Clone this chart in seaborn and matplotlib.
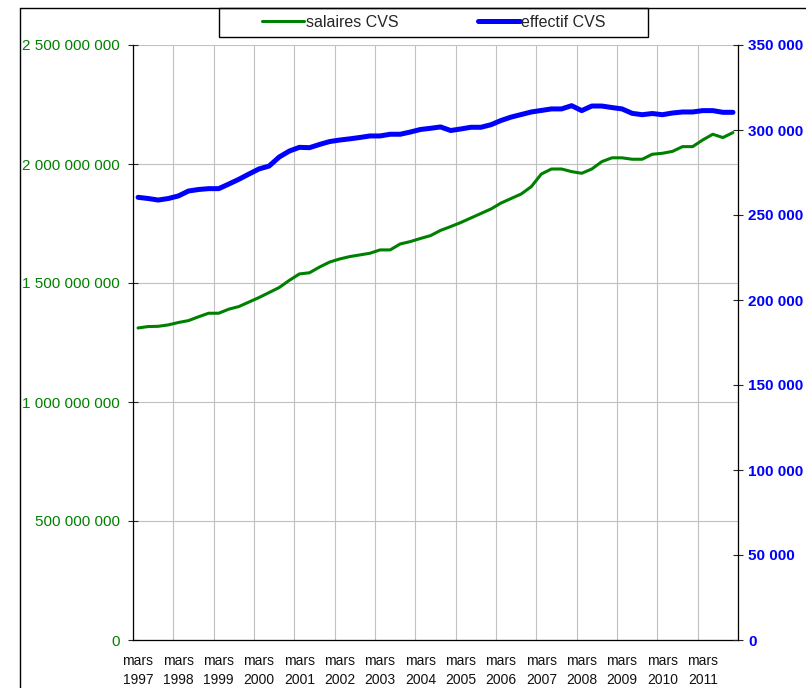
import numpy as np
import pandas as pd
import matplotlib
matplotlib.use("Agg")
import matplotlib.pyplot as plt
from matplotlib.lines import Line2D
from matplotlib.patches import Rectangle
from matplotlib.ticker import FixedLocator, FuncFormatter, MultipleLocator
import seaborn as sns

# quarterly series, mars 1997 -> dec 2011
salaires = [
    1.311e9, 1.317e9, 1.318e9, 1.324e9, 1.334e9, 1.342e9, 1.358e9, 1.373e9,
    1.373e9, 1.390e9, 1.401e9, 1.420e9, 1.439e9, 1.460e9, 1.481e9, 1.511e9,
    1.538e9, 1.543e9, 1.567e9, 1.588e9, 1.601e9, 1.611e9, 1.618e9, 1.625e9,
    1.639e9, 1.639e9, 1.664e9, 1.674e9, 1.687e9, 1.699e9, 1.721e9, 1.737e9,
    1.754e9, 1.773e9, 1.792e9, 1.811e9, 1.836e9, 1.855e9, 1.874e9, 1.905e9,
    1.958e9, 1.979e9, 1.979e9, 1.968e9, 1.961e9, 1.979e9, 2.010e9, 2.026e9,
    2.026e9, 2.020e9, 2.020e9, 2.041e9, 2.045e9, 2.053e9, 2.073e9, 2.073e9,
    2.101e9, 2.125e9, 2.111e9, 2.132e9,
]
effectif = [
    260400, 259700, 258800, 259700, 261200, 264100, 265000, 265500,
    265500, 268200, 271000, 274100, 277100, 278800, 284100, 287600,
    289800, 289600, 291500, 293200, 294100, 294800, 295600, 296500,
    296500, 297500, 297500, 298800, 300300, 301000, 301800, 299700,
    300600, 301600, 301600, 303100, 305600, 307600, 309100, 310600,
    311500, 312400, 312400, 314300, 311400, 314100, 314100, 313200,
    312400, 309800, 309000, 309700, 309000, 310000, 310600, 310600,
    311400, 311400, 310400, 310400,
]
years = list(range(1997, 2012))
x_labels = [f"mars\n{y}" for y in years]

df = pd.DataFrame({"t": np.arange(len(salaires)), "salaires": salaires, "effectif": effectif})

sns.set_style("white")
plt.rcParams["font.family"] = ["Liberation Sans", "DejaVu Sans"]

green = "#008000"
blue = "#0000FF"
W, H = 806, 688
fig = plt.figure(figsize=(W / 100, H / 100), dpi=100)
ax = fig.add_axes([133 / W, 48 / H, 605 / W, 595 / H])
ax2 = ax.twinx()

sns.lineplot(data=df, x="t", y="salaires", ax=ax, color=green, lw=2.2, label="salaires CVS", legend=False)
sns.lineplot(data=df, x="t", y="effectif", ax=ax2, color=blue, lw=3.6, label="effectif CVS", legend=False)

n = len(salaires)
ax.set_xlim(-0.5, n - 0.5)
ax.set_ylim(0, 2.5e9)
ax2.set_ylim(0, 350000)
ax.set_xlabel("")
ax.set_ylabel("")
ax2.set_ylabel("")

# year boundaries -> ticks and vertical grid, labels on first quarter
ax.xaxis.set_major_locator(FixedLocator(np.arange(-0.5, n, 4)))
ax.xaxis.set_minor_locator(FixedLocator(np.arange(0, n, 4)))
ax.set_xticklabels([], minor=False)
ax.set_xticklabels(x_labels, minor=True)
ax.tick_params(axis="x", which="major", direction="inout", length=7, width=0.8, color="black")
ax.tick_params(axis="x", which="minor", length=0, pad=10, labelsize=10, labelcolor="#111111")
for lbl in ax.get_xticklabels(minor=True):
    lbl.set_linespacing(1.45)

ax.yaxis.set_major_locator(MultipleLocator(5e8))
ax.yaxis.set_major_formatter(FuncFormatter(lambda v, p: f"{v:,.0f}".replace(",", " ")))
ax.tick_params(axis="y", direction="inout", length=7, width=0.8, pad=6, labelsize=11, labelcolor=green, left=True)

ax2.yaxis.set_major_locator(MultipleLocator(50000))
ax2.yaxis.set_major_formatter(FuncFormatter(lambda v, p: f"{v:,.0f}".replace(",", " ")))
ax2.tick_params(axis="y", direction="inout", length=7, width=0.8, pad=4, labelsize=11, labelcolor=blue, right=True)
for lbl in ax2.get_yticklabels():
    lbl.set_fontweight("bold")

ax.grid(True, which="major", color="#C0C0C0", lw=0.8)
ax2.grid(False)
for s in ["top", "right"]:
    ax.spines[s].set_visible(False)
for s in ["top", "left", "bottom"]:
    ax2.spines[s].set_visible(False)
for a in (ax, ax2):
    for s in a.spines.values():
        s.set_color("black")
        s.set_linewidth(0.9)

# outer chart frame (cropped on right and bottom)
fig.add_artist(Line2D([20 / W, 1], [1 - 8 / H, 1 - 8 / H], color="black", lw=1, transform=fig.transFigure))
fig.add_artist(Line2D([20 / W, 20 / W], [0, 1 - 8 / H], color="black", lw=1, transform=fig.transFigure))

# legend box
fig.add_artist(Rectangle((219 / W, 1 - 37 / H), 429 / W, 29 / H, fill=False, edgecolor="black", lw=1,
                         transform=fig.transFigure))
h1, l1 = ax.get_legend_handles_labels()
h2, l2 = ax2.get_legend_handles_labels()
fig.legend(h1 + h2, l1 + l2, loc="center", bbox_to_anchor=(434 / W, 1 - 22.5 / H), ncol=2, frameon=False,
           fontsize=11.5, handlelength=2.6, handletextpad=0.1, columnspacing=5.0, borderaxespad=0)

fig.savefig("out.png", dpi=100)
